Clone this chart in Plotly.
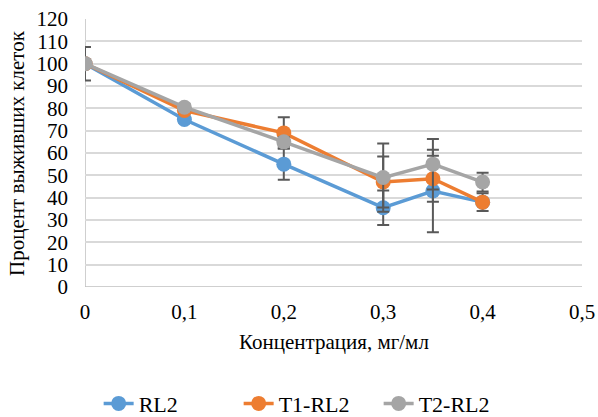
import plotly.graph_objects as go

conc = [0, 0.1, 0.2, 0.3, 0.35, 0.4]
rl2 = [100, 75, 55, 35.5, 43, 38]
t1_rl2 = [100, 79, 69, 47, 48.5, 38]
t2_rl2 = [100, 80.5, 65, 49, 55, 47]
rl2_err = [0, 1.5, 7, 7.7, 18.5, 1]
t1_err = [0, 1.5, 7, 11.4, 10.3, 4]
t2_err = [7.5, 1.5, 2, 15.3, 11.3, 4.2]

names = ["RL2", "T1-RL2", "T2-RL2"]
colors = ["#5b9bd5", "#ed7d31", "#a5a5a5"]
xtick_vals = [0, 0.1, 0.2, 0.3, 0.4, 0.5]
xtick_text = ["0", "0,1", "0,2", "0,3", "0,4", "0,5"]
ytick_vals = list(range(0, 121, 10))

font = "Liberation Serif"

fig = go.Figure()
for name, ys, errs, col in zip(names, [rl2, t1_rl2, t2_rl2], [rl2_err, t1_err, t2_err], colors):
    fig.add_trace(go.Scatter(
        x=conc, y=ys, name=name, mode="lines+markers",
        line=dict(color=col, width=3.5),
        marker=dict(color=col, size=15),
        error_y=dict(type="data", array=errs, visible=True, color="#595959", thickness=2, width=6),
    ))

fig.update_layout(
    width=598, height=417,
    margin=dict(l=85, r=16, t=19, b=130, autoexpand=False),
    paper_bgcolor="white", plot_bgcolor="white",
    font=dict(family=font, size=21, color="#000000"),
    showlegend=True,
    legend=dict(orientation="h", x=0.45, xanchor="center", y=-0.435, yanchor="middle",
                font=dict(family=font, size=22), tracegroupgap=0,
                entrywidth=95, entrywidthmode="pixels"),
    xaxis=dict(range=[0, 0.5], tickvals=xtick_vals, ticktext=xtick_text,
               showgrid=False, zeroline=False, showline=False, ticks="", automargin=False,
               ticklabelstandoff=10, tickfont=dict(family=font, size=21)),
    yaxis=dict(range=[0, 120], tickvals=ytick_vals, showgrid=True, gridcolor="#d9d9d9", gridwidth=1.5,
               zeroline=False, showline=False, ticks="", ticklen=0, automargin=False,
               ticklabelstandoff=16, tickfont=dict(family=font, size=21)),
    annotations=[
        dict(text="Концентрация, мг/мл", xref="paper", yref="paper", x=0.5, y=-0.205,
             xanchor="center", yanchor="middle", showarrow=False, font=dict(family=font, size=21)),
        dict(text="Процент выживших клеток", xref="paper", yref="paper", x=-0.137, y=0.5,
             xanchor="center", yanchor="middle", textangle=-90, showarrow=False,
             font=dict(family=font, size=21)),
    ],
    shapes=[
        dict(type="line", xref="x", yref="paper", x0=0, x1=0, y0=0, y1=1, line=dict(color="#bfbfbf", width=1.5), layer="below"),
        dict(type="line", xref="paper", yref="y", x0=0, x1=1, y0=0, y1=0, line=dict(color="#bfbfbf", width=1.5), layer="below"),
    ],
)

fig.write_html("out.html")
